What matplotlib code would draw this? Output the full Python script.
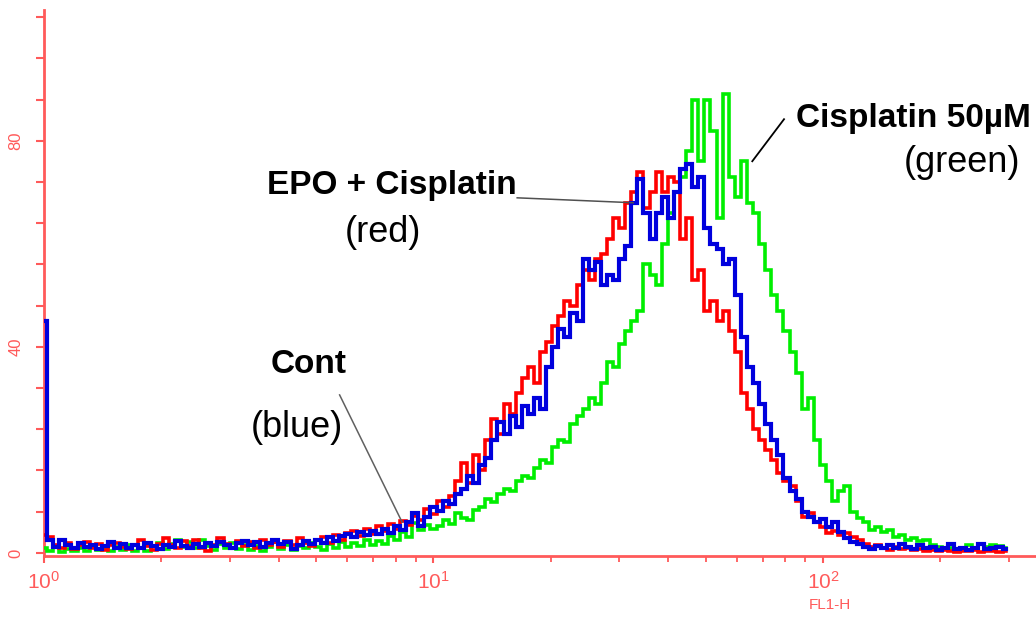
import numpy as np
import matplotlib
matplotlib.use("Agg")
import matplotlib.pyplot as plt
from matplotlib.ticker import FixedLocator, NullFormatter

plt.rcParams['font.family'] = ['Liberation Sans', 'DejaVu Sans']
plt.rcParams['mathtext.fontset'] = 'custom'
plt.rcParams['mathtext.rm'] = 'Liberation Sans'
plt.rcParams['mathtext.default'] = 'regular'

# FL1-H histogram counts, one value every 4 channels (256 channels per decade)
channel_step = 4

cont_blue = [
    45, 2.5, 1.2, 2.5, 1.5, 1.0, 2.0, 1.2, 1.6, 0.8,
    1.4, 2.2, 1.0, 1.8, 0.9, 1.5, 1.0, 2.0, 1.3, 0.7,
    1.6, 1.1, 2.3, 1.4, 1.0, 1.8, 1.2, 2.0, 1.4, 2.2,
    1.6, 1.0, 1.9, 2.4, 1.5, 2.2, 1.2, 2.0, 2.6, 1.7,
    2.2, 0.8, 1.6, 2.3, 1.8, 2.6, 2.0, 3.0, 2.4, 3.2,
    3.6, 3.0, 4.0, 3.4, 4.2, 3.6, 4.6, 3.8, 5.2, 4.4,
    6.0, 7.8, 5.2, 7.0, 9.0, 8.2, 10.0, 9.4, 11.5, 12.5,
    15.0, 13.5, 17.0, 18.5, 22.0, 25.5, 23.0, 26.5, 24.5, 28.5,
    27.0, 30.0, 28.0, 36.0, 40.0, 43.5, 42.0, 46.5, 45.0, 57.0,
    55.0, 56.5, 52.0, 54.0, 53.0, 57.0, 59.5, 68.0, 72.5, 66.0,
    61.0, 66.0, 69.0, 65.0, 70.0, 74.5, 75.5, 71.0, 73.0, 63.0,
    60.0, 59.0, 56.0, 57.0, 50.0, 42.0, 36.0, 33.0, 29.0, 25.0,
    22.0, 19.0, 14.5, 12.0, 10.5, 8.0, 7.0, 6.0, 6.5, 5.0,
    6.0, 4.0, 2.8, 2.2, 1.8, 1.2, 0.8, 1.4, 1.0, 1.6,
    1.0, 1.8, 1.2, 0.8, 1.5, 1.0, 1.2, 0.6, 1.0, 1.8,
    0.8, 1.0, 0.6, 1.0, 1.8, 0.8, 1.0, 1.2, 0.8,
]

epo_cisplatin_red = [
    3.5, 3.0, 1.5, 1.0, 2.0, 0.8, 1.5, 2.2, 1.0, 1.8,
    0.6, 1.5, 2.0, 1.2, 0.8, 1.6, 2.6, 1.4, 0.6, 1.8,
    2.8, 1.6, 1.0, 2.4, 1.3, 2.6, 1.0, 0.4, 1.6, 2.8,
    1.8, 1.0, 2.4, 1.4, 2.2, 1.0, 2.6, 1.6, 2.2, 1.2,
    2.4, 1.6, 2.8, 2.0, 1.4, 2.6, 3.0, 2.0, 3.4, 2.6,
    3.8, 4.2, 3.2, 4.6, 3.6, 5.2, 4.2, 5.6, 4.6, 6.2,
    5.4, 7.2, 6.4, 8.6, 7.6, 10.0, 9.0, 11.0, 14.0, 17.5,
    13.5, 19.0, 16.0, 22.0, 26.0, 23.0, 29.0, 27.0, 31.0, 34.0,
    36.0, 33.0, 39.0, 41.0, 44.0, 46.0, 49.0, 48.0, 52.0, 55.0,
    53.0, 57.0, 58.0, 61.0, 65.0, 63.0, 68.0, 70.0, 74.0, 67.0,
    70.0, 74.0, 70.0, 73.0, 72.0, 61.0, 65.0, 53.0, 55.0, 47.0,
    49.0, 45.0, 47.0, 43.0, 39.0, 31.0, 28.0, 24.0, 22.0, 20.0,
    18.0, 15.5, 14.0, 13.0, 10.0, 7.0, 7.8, 6.0, 5.0, 3.9,
    4.2, 3.5, 3.9, 3.0, 2.5, 1.8, 1.2, 1.5, 1.0, 0.6,
    1.2, 0.8, 1.0, 0.5, 0.8, 0.4, 0.6, 0.3, 0.5, 0.3,
    0.2, 0.4, 0.3, 0.5, 0.2, 0.4, 0.3, 0.2, 0.3,
]

cisplatin_green = [
    1.0, 0.4, 1.2, 0.2, 0.8, 0.3, 1.0, 0.4, 1.4, 0.5,
    0.9, 0.3, 1.2, 0.6, 1.6, 0.4, 1.0, 0.3, 1.4, 2.0,
    0.8, 1.8, 2.6, 1.2, 2.2, 1.0, 2.6, 1.4, 0.6, 1.8,
    1.0, 2.0, 0.8, 1.5, 0.6, 1.4, 0.4, 1.2, 2.2, 0.8,
    1.6, 0.6, 1.4, 1.0, 2.0, 1.2, 0.6, 1.8, 1.0, 2.2,
    1.2, 2.0, 1.4, 2.6, 1.6, 2.4, 1.8, 3.2, 2.6, 4.0,
    3.0, 5.8, 4.4, 5.4, 4.6, 5.2, 6.4, 5.6, 7.8, 6.8,
    6.4, 8.4, 9.0, 10.5, 9.8, 11.5, 12.5, 12.0, 14.0, 15.0,
    14.5, 16.5, 18.0, 17.5, 20.5, 22.0, 21.5, 25.0, 26.5, 28.0,
    30.0, 29.0, 33.0, 37.0, 36.0, 40.5, 43.0, 45.0, 47.0, 56.0,
    54.0, 52.0, 60.0, 66.0, 70.0, 73.0, 78.0, 88.0, 76.0, 88.0,
    82.0, 65.0, 89.0, 73.0, 69.0, 76.0, 68.0, 66.0, 60.0, 55.0,
    50.0, 47.0, 43.0, 39.0, 35.0, 28.0, 30.0, 22.0, 17.0, 14.0,
    10.0, 12.0, 13.0, 8.0, 6.8, 6.0, 4.5, 5.0, 4.0, 4.5,
    3.1, 3.4, 2.5, 2.8, 2.4, 2.5, 1.6, 1.2, 0.8, 1.0,
    0.6, 1.0, 1.6, 1.0, 1.8, 1.2, 1.6, 1.4, 1.0,
]

y_ticks = [0, 8, 16, 24, 32, 40, 48, 56, 64, 72, 80, 88, 96, 104]
y_tick_labels = ['0', '', '', '', '', '40', '', '', '', '', '80', '', '', '']
x_major_ticks = [1, 10, 100]
x_major_labels = [r'$10^{0}$', r'$10^{1}$', r'$10^{2}$']
x_minor_ticks = [m * d for d in (1, 10, 100) for m in range(2, 10)]

axis_red = '#ff5a5a'

channels = np.arange(len(cont_blue)) * channel_step
fl1_h = 10 ** (channels / 256.0)

fig = plt.figure(figsize=(10.36, 6.17), dpi=100)
fig.patch.set_facecolor('white')
ax = fig.add_axes([44 / 1036, 1 - 556 / 617, 992 / 1036, 546 / 617])

line_kw = dict(drawstyle='steps-mid', solid_joinstyle='miter')
ax.plot(fl1_h, cisplatin_green, color='#00ee00', lw=2.6, zorder=3, **line_kw)
ax.plot(fl1_h, epo_cisplatin_red, color='#ff0000', lw=2.6, zorder=4, **line_kw)
ax.plot(fl1_h, cont_blue, color='#0000dd', lw=3.0, zorder=5, **line_kw)

ax.set_xscale('log')
ax.set_xlim(1, 10 ** (992 / 389.5))
ax.set_ylim(-0.6, 105.4)

for side in ('top', 'right'):
    ax.spines[side].set_visible(False)
for side in ('left', 'bottom'):
    ax.spines[side].set_color(axis_red)
    ax.spines[side].set_linewidth(2.0)
    ax.spines[side].set_zorder(2)

ax.set_yticks(y_ticks)
ax.set_yticklabels(y_tick_labels, rotation=90, va='center', color=axis_red,
                   fontsize=12)
ax.tick_params(axis='y', direction='out', length=6, width=1.5, color=axis_red,
               pad=9)

ax.xaxis.set_major_locator(FixedLocator(x_major_ticks))
ax.xaxis.set_minor_locator(FixedLocator(x_minor_ticks))
ax.xaxis.set_minor_formatter(NullFormatter())
ax.set_xticklabels(x_major_labels, color=axis_red, fontsize=15)
ax.tick_params(axis='x', which='major', direction='out', length=5, width=1.5,
               color=axis_red, pad=6)
ax.tick_params(axis='x', which='minor', direction='out', length=4, width=1.3,
               color=axis_red)

ax.text(0.792, -0.09, 'FL1-H', transform=ax.transAxes, color=axis_red,
        fontsize=11, ha='center', va='center')

# labels for the three populations
ax.text(0.351, 0.679, 'EPO + Cisplatin', transform=ax.transAxes, fontsize=24,
        fontweight='bold', ha='center', va='center', color='black')
ax.text(0.342, 0.593, '(red)', transform=ax.transAxes, fontsize=26,
        ha='center', va='center', color='black')
ax.text(0.876, 0.802, 'Cisplatin 50\u00b5M', transform=ax.transAxes,
        fontsize=24, fontweight='bold', ha='center', va='center', color='black')
ax.text(0.925, 0.720, '(green)', transform=ax.transAxes, fontsize=26,
        ha='center', va='center', color='black')
ax.text(0.267, 0.350, 'Cont', transform=ax.transAxes, fontsize=24,
        fontweight='bold', ha='center', va='center', color='black')
ax.text(0.255, 0.236, '(blue)', transform=ax.transAxes, fontsize=26,
        ha='center', va='center', color='black')

# leader lines from labels to curves
ax.plot([0.477, 0.594], [0.656, 0.647], transform=ax.transAxes, color='#505050',
        lw=1.1, clip_on=False, zorder=6)
ax.plot([0.746, 0.714], [0.800, 0.723], transform=ax.transAxes, color='black',
        lw=1.3, clip_on=False, zorder=6)
ax.plot([0.298, 0.361], [0.295, 0.062], transform=ax.transAxes, color='#606060',
        lw=1.1, clip_on=False, zorder=6)

fig.savefig('out.png', dpi=100, facecolor='white')
